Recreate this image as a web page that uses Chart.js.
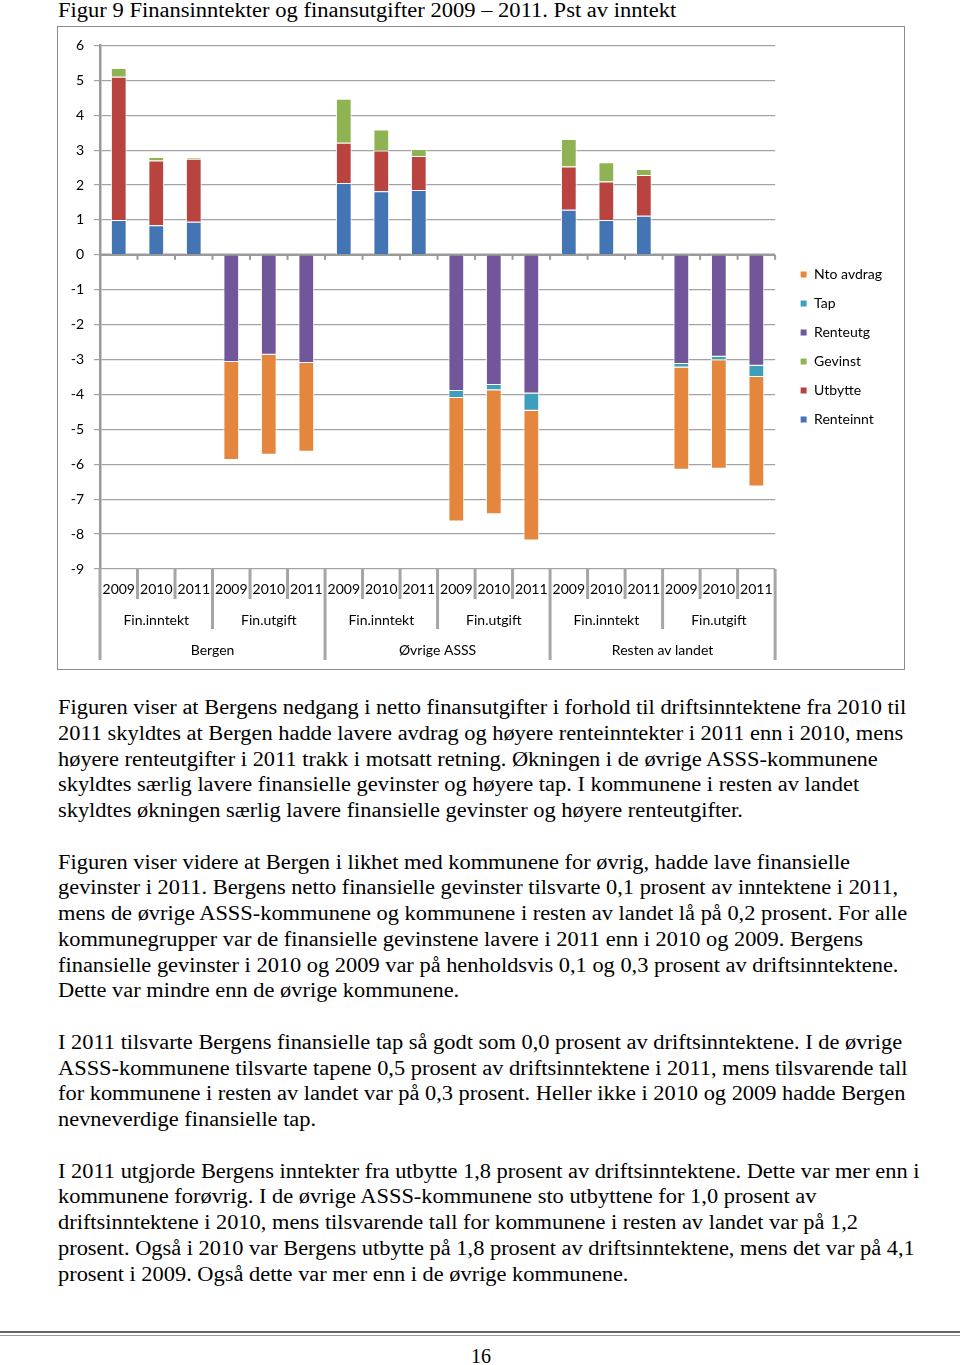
<!DOCTYPE html>
<html>
<head>
<meta charset="utf-8">
<script src="https://cdn.jsdelivr.net/npm/chart.js@4.4.1/dist/chart.umd.min.js"></script>
<style>
    body { margin: 0; background: #fff; width: 960px; height: 1365px; position: relative; overflow: hidden; font-family: "Liberation Serif", "Times New Roman", serif; color: #000; }
    .title { position: absolute; left: 58px; top: -2px; font-size: 20px; line-height: 24px; white-space: nowrap; transform: scaleX(1.127); transform-origin: 0 0; }
    .chartbox { position: absolute; left: 57px; top: 26px; width: 846px; height: 642px; border: 1px solid #8c8c8c; }
    .text { position: absolute; left: 58px; top: 695px; font-size: 20px; line-height: 25.75px; white-space: nowrap; transform: scaleX(1.12); transform-origin: 0 0; }
    .rule1 { position: absolute; left: 0; top: 1331px; width: 960px; border-top: 2px solid #666; }
    .rule2 { position: absolute; left: 0; top: 1335px; width: 960px; border-top: 1px solid #999; }
    .page { position: absolute; left: 0; width: 962px; top: 1343px; text-align: center; font-size: 20px; line-height: 26px; }
</style>
</head>
<body>
<div class="title">Figur 9 Finansinntekter og finansutgifter 2009 – 2011. Pst av inntekt</div>
<div class="chartbox"><canvas id="finChart"></canvas></div>
<div class="text">
Figuren viser at Bergens nedgang i netto finansutgifter i forhold til driftsinntektene fra 2010 til<br>
2011 skyldtes at Bergen hadde lavere avdrag og høyere renteinntekter i 2011 enn i 2010, mens<br>
høyere renteutgifter i 2011 trakk i motsatt retning. Økningen i de øvrige ASSS-kommunene<br>
skyldtes særlig lavere finansielle gevinster og høyere tap. I kommunene i resten av landet<br>
skyldtes økningen særlig lavere finansielle gevinster og høyere renteutgifter.<br>
<br>
Figuren viser videre at Bergen i likhet med kommunene for øvrig, hadde lave finansielle<br>
gevinster i 2011. Bergens netto finansielle gevinster tilsvarte 0,1 prosent av inntektene i 2011,<br>
mens de øvrige ASSS-kommunene og kommunene i resten av landet lå på 0,2 prosent. For alle<br>
kommunegrupper var de finansielle gevinstene lavere i 2011 enn i 2010 og 2009. Bergens<br>
finansielle gevinster i 2010 og 2009 var på henholdsvis 0,1 og 0,3 prosent av driftsinntektene.<br>
Dette var mindre enn de øvrige kommunene.<br>
<br>
I 2011 tilsvarte Bergens finansielle tap så godt som 0,0 prosent av driftsinntektene. I de øvrige<br>
ASSS-kommunene tilsvarte tapene 0,5 prosent av driftsinntektene i 2011, mens tilsvarende tall<br>
for kommunene i resten av landet var på 0,3 prosent. Heller ikke i 2010 og 2009 hadde Bergen<br>
nevneverdige finansielle tap.<br>
<br>
I 2011 utgjorde Bergens inntekter fra utbytte 1,8 prosent av driftsinntektene. Dette var mer enn i<br>
kommunene forøvrig. I de øvrige ASSS-kommunene sto utbyttene for 1,0 prosent av<br>
driftsinntektene i 2010, mens tilsvarende tall for kommunene i resten av landet var på 1,2<br>
prosent. Også i 2010 var Bergens utbytte på 1,8 prosent av driftsinntektene, mens det var på 4,1<br>
prosent i 2009. Også dette var mer enn i de øvrige kommunene.
</div>
<div class="rule1"></div>
<div class="rule2"></div>
<div class="page">16</div>

<script>
// categories: 3 regions x (Fin.inntekt, Fin.utgift) x 3 years
const years = ['2009', '2010', '2011'];
const measures = ['Fin.inntekt', 'Fin.utgift'];
const regions = ['Bergen', 'Øvrige ASSS', 'Resten av landet'];
const yTicks = [6, 5, 4, 3, 2, 1, 0, -1, -2, -3, -4, -5, -6, -7, -8, -9];

const categories = [];
regions.forEach(() => measures.forEach(() => years.forEach(y => categories.push(y))));

// values in pst av inntekt (null = no bar)
const renteinnt = [1.0, 0.85, 0.95, null, null, null, 2.06, 1.82, 1.86, null, null, null, 1.29, 1.0, 1.12, null, null, null];
const utbytte = [4.1, 1.85, 1.8, null, null, null, 1.15, 1.17, 0.97, null, null, null, 1.24, 1.1, 1.17, null, null, null];
const gevinst = [0.25, 0.1, 0.05, null, null, null, 1.26, 0.6, 0.2, null, null, null, 0.79, 0.55, 0.17, null, null, null];
const renteutg = [null, null, null, -3.07, -2.86, -3.1, null, null, null, -3.9, -3.73, -3.97, null, null, null, -3.13, -2.92, -3.18];
const tap = [null, null, null, null, null, null, null, null, null, -0.2, -0.15, -0.5, null, null, null, -0.1, -0.1, -0.32];
const ntoAvdrag = [null, null, null, -2.81, -2.87, -2.54, null, null, null, -3.54, -3.55, -3.71, null, null, null, -2.93, -3.11, -3.14];

const labelFont = { family: 'Lato, "Open Sans", sans-serif', size: 14 };

function boundary(x, i) {
    if (i === 0) return x.left;
    if (i === categories.length) return x.right;
    return (x.getPixelForValue(i - 1) + x.getPixelForValue(i)) / 2;
}

// zero axis line with small tick marks
const zeroLine = {
    id: 'zeroLine',
    beforeDatasetsDraw(chart) {
        const ctx = chart.ctx, x = chart.scales.x, y = chart.scales.y;
        const y0 = y.getPixelForValue(0);
        ctx.save();
        ctx.strokeStyle = '#9a9a9a';
        ctx.lineWidth = 2.5;
        ctx.beginPath();
        ctx.moveTo(x.left, y0);
        ctx.lineTo(x.right, y0);
        ctx.stroke();
        ctx.lineWidth = 2;
        for (let i = 0; i <= categories.length; i++) {
            const bx = boundary(x, i);
            ctx.beginPath();
            ctx.moveTo(bx, y0);
            ctx.lineTo(bx, y0 + 5);
            ctx.stroke();
        }
        ctx.restore();
    }
};

// multi level category labels
const groupLabels = {
    id: 'groupLabels',
    afterDraw(chart) {
        const ctx = chart.ctx, x = chart.scales.x;
        const top = chart.scales.y.bottom;
        ctx.save();
        ctx.strokeStyle = '#a6a6a6';
        ctx.lineWidth = 3;
        for (let i = 0; i <= categories.length; i++) {
            let len = 30;
            if (i % 3 === 0) len = 60;
            if (i % 6 === 0) len = 91;
            const bx = boundary(x, i);
            ctx.beginPath();
            ctx.moveTo(bx, top);
            ctx.lineTo(bx, top + len);
            ctx.stroke();
        }
        ctx.fillStyle = '#000';
        ctx.font = labelFont.size + 'px ' + labelFont.family;
        ctx.textAlign = 'center';
        ctx.textBaseline = 'middle';
        for (let m = 0; m < regions.length * measures.length; m++) {
            ctx.fillText(measures[m % 2], x.getPixelForValue(m * 3 + 1), top + 51);
        }
        regions.forEach((r, k) => {
            const cx = (x.getPixelForValue(k * 6 + 2) + x.getPixelForValue(k * 6 + 3)) / 2;
            ctx.fillText(r, cx, top + 81);
        });
        ctx.restore();
    }
};

function bar(label, data, color) {
    return {
        label: label,
        data: data,
        backgroundColor: color,
        borderColor: '#ffffff',
        borderWidth: 1,
        barPercentage: 0.42,
        categoryPercentage: 1.0
    };
}

new Chart(document.getElementById('finChart'), {
    type: 'bar',
    data: {
        labels: categories,
        datasets: [
            bar('Renteinnt', renteinnt, '#4375b4'),
            bar('Utbytte', utbytte, '#b9433f'),
            bar('Gevinst', gevinst, '#8fb352'),
            bar('Renteutg', renteutg, '#71569a'),
            bar('Tap', tap, '#3d9fbb'),
            bar('Nto avdrag', ntoAvdrag, '#e5863e')
        ]
    },
    options: {
        responsive: true,
        maintainAspectRatio: false,
        animation: false,
        layout: { padding: { top: 18, right: 12, bottom: 20, left: 0 } },
        plugins: {
            tooltip: { enabled: false },
            legend: {
                position: 'right',
                reverse: true,
                labels: {
                    boxWidth: 7,
                    boxHeight: 7,
                    padding: 15,
                    color: '#000',
                    font: labelFont
                }
            }
        },
        scales: {
            x: {
                stacked: true,
                grid: { display: false, drawTicks: false },
                border: { display: false },
                ticks: { color: '#000', font: labelFont, padding: 12, maxRotation: 0, autoSkip: false },
                afterFit(scale) { scale.height = 80; }
            },
            y: {
                stacked: true,
                min: -9,
                max: 6,
                afterBuildTicks(scale) { scale.ticks = yTicks.map(v => ({ value: v })); },
                grid: {
                    color: ctx => (ctx.tick && ctx.tick.value === 0) ? 'rgba(0,0,0,0)' : '#a3a3a3',
                    lineWidth: 1.2,
                    tickLength: 6,
                    tickColor: '#a3a3a3'
                },
                border: { color: '#9a9a9a', width: 2.5 },
                ticks: { color: '#000', font: labelFont, padding: 10 },
                afterFit(scale) { scale.width = 42; }
            },
            gap: {
                type: 'linear',
                position: 'right',
                display: true,
                grid: { display: false },
                border: { display: false },
                ticks: { display: false },
                afterFit(scale) { scale.width = 10; }
            }
        }
    },
    plugins: [zeroLine, groupLabels]
});
</script>
</body>
</html>
